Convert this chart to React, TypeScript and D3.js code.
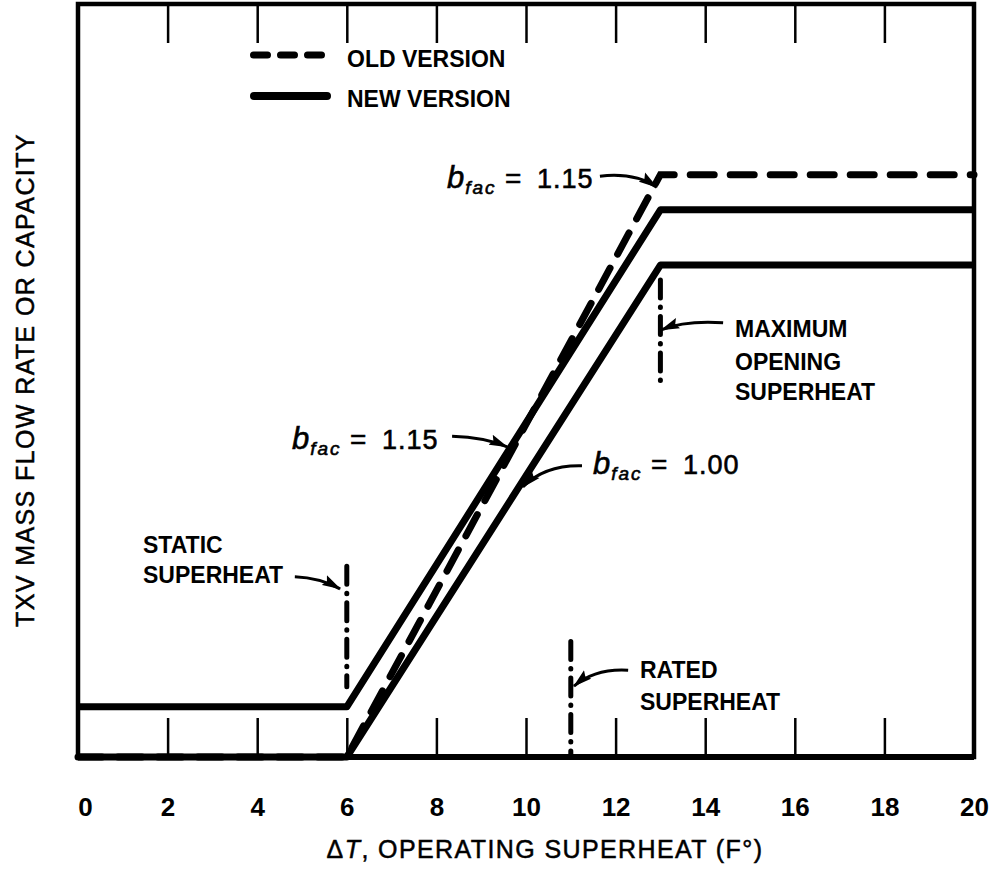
import * as d3 from 'd3';
import React, { useEffect, useRef } from 'react';

// x axis: operating superheat (F°)
const xTicks = [0, 2, 4, 6, 8, 10, 12, 14, 16, 18, 20];
const tickLabels = ['0', '2', '4', '6', '8', '10', '12', '14', '16', '18', '20'];

// curve break points (superheat) and capacities (relative)
const superheat = [0, 6, 13, 20];
const newHigh = [0.1, 0.1, 1.09, 1.09]; // b_fac = 1.15
const newLow = [0, 0, 0.98, 0.98]; // b_fac = 1.00
const oldVersion = [0, 0, 1.16, 1.16];

// dash-dot superheat markers
const markerX = [6, 13, 11];
const markerLow = [0.14, 0.74, 0];
const markerHigh = [0.38, 0.95, 0.23];

// annotation arrows in data units: start, control, end
const arrows = [
  [4.84, 0.359, 5.4, 0.357, 5.85, 0.335], // static superheat
  [14.4, 0.865, 13.55, 0.87, 13.02, 0.851], // maximum opening
  [11.25, 0.58, 10.42, 0.582, 9.93, 0.538], // b_fac 1.00
  [8.35, 0.639, 9.08, 0.637, 9.58, 0.618], // b_fac 1.15 (new)
  [11.65, 1.157, 12.43, 1.165, 12.92, 1.135], // b_fac 1.15 (old)
  [12.28, 0.173, 11.54, 0.177, 11.07, 0.141], // rated
];

const font = '"Liberation Sans", Arial, Helvetica, sans-serif';

function App() {
  const myRef = useRef<SVGSVGElement>(null);

  useEffect(() => {
    const svg = d3.select(myRef.current);
    svg.selectAll('*').remove();

    const x = d3.scaleLinear().domain([0, 20]).range([78, 974]);
    const y = d3.scaleLinear().domain([0, 1.5]).range([757, 4]);

    svg.append('defs')
      .append('marker')
      .attr('id', 'head')
      .attr('markerUnits', 'userSpaceOnUse')
      .attr('markerWidth', 20)
      .attr('markerHeight', 12)
      .attr('refX', 18)
      .attr('refY', 6)
      .attr('orient', 'auto')
      .append('path')
      .attr('d', 'M0,0.5 L19,6 L0,11.5 L3,6 Z')
      .attr('fill', '#000');

    // frame
    svg.append('rect')
      .attr('x', x(0))
      .attr('y', y(1.5))
      .attr('width', x(20) - x(0))
      .attr('height', y(0) - y(1.5))
      .attr('fill', 'none')
      .attr('stroke', '#000')
      .attr('stroke-width', 4.5);

    // bottom ticks + labels
    const xAxis = d3.axisBottom(x)
      .tickValues(xTicks)
      .tickSize(-39)
      .tickPadding(41)
      .tickFormat((d, i) => tickLabels[i]);
    const gx = svg.append('g')
      .attr('transform', `translate(0,${y(0)})`)
      .call(xAxis);
    gx.select('.domain').remove();
    gx.attr('font-family', font).attr('font-size', 26).attr('font-weight', 'bold');
    gx.selectAll('line').attr('stroke-width', 2.5);
    gx.selectAll('text').filter((d) => d === 0).attr('dx', 7);

    // top ticks
    const topAxis = d3.axisTop(x).tickValues(xTicks).tickSize(-39).tickFormat(() => '');
    const gt = svg.append('g')
      .attr('transform', `translate(0,${y(1.5)})`)
      .call(topAxis);
    gt.select('.domain').remove();
    gt.selectAll('line').attr('stroke-width', 2.5);

    // heavier bottom rule
    svg.append('line')
      .attr('x1', x(0)).attr('x2', x(20))
      .attr('y1', y(0)).attr('y2', y(0))
      .attr('stroke', '#000').attr('stroke-width', 6);

    const line = d3.line<number>()
      .x((d, i) => x(superheat[i]))
      .y((d) => y(d));

    // old version (dashed)
    svg.append('path')
      .attr('d', line(oldVersion))
      .attr('fill', 'none')
      .attr('stroke', '#000')
      .attr('stroke-width', 7)
      .attr('stroke-linecap', 'round')
      .attr('stroke-dasharray', '24 16');

    // new version
    [newHigh, newLow].forEach((s) => {
      svg.append('path')
        .attr('d', line(s))
        .attr('fill', 'none')
        .attr('stroke', '#000')
        .attr('stroke-width', 7)
        .attr('stroke-linejoin', 'round');
    });

    // dash-dot markers
    markerX.forEach((m, i) => {
      svg.append('line')
        .attr('x1', x(m)).attr('x2', x(m))
        .attr('y1', y(markerHigh[i])).attr('y2', y(markerLow[i]))
        .attr('stroke', '#000')
        .attr('stroke-width', 5)
        .attr('stroke-linecap', 'round')
        .attr('stroke-dasharray', '18 9 0.5 9');
    });

    // arrows
    arrows.forEach((a) => {
      const p = d3.path();
      p.moveTo(x(a[0]), y(a[1]));
      p.quadraticCurveTo(x(a[2]), y(a[3]), x(a[4]), y(a[5]));
      svg.append('path')
        .attr('d', p.toString())
        .attr('fill', 'none')
        .attr('stroke', '#000')
        .attr('stroke-width', 3)
        .attr('marker-end', 'url(#head)');
    });

    // legend
    svg.append('line')
      .attr('x1', 253.5).attr('x2', 326).attr('y1', 55).attr('y2', 55)
      .attr('stroke', '#000').attr('stroke-width', 7)
      .attr('stroke-linecap', 'round').attr('stroke-dasharray', '14 13');
    svg.append('line')
      .attr('x1', 254).attr('x2', 327).attr('y1', 96).attr('y2', 96)
      .attr('stroke', '#000').attr('stroke-width', 8)
      .attr('stroke-linecap', 'round');

    const label = (tx: number, ty: number, s: string) =>
      svg.append('text')
        .attr('x', tx).attr('y', ty)
        .attr('font-family', font)
        .attr('font-size', 23)
        .attr('font-weight', 'bold')
        .text(s);

    label(347, 67, 'OLD VERSION');
    label(347, 107, 'NEW VERSION');
    label(143, 553, 'STATIC');
    label(143, 583, 'SUPERHEAT');
    label(735, 337, 'MAXIMUM');
    label(735, 370, 'OPENING');
    label(735, 400, 'SUPERHEAT');
    label(640, 678, 'RATED');
    label(640, 710, 'SUPERHEAT');

    // b_fac labels
    const bfac = (tx: number, ty: number, v: string) => {
      const t = svg.append('text')
        .attr('x', tx).attr('y', ty)
        .attr('font-family', font)
        .attr('stroke', '#000')
        .attr('stroke-width', 0.6);
      t.append('tspan').attr('font-style', 'italic').attr('font-size', 31).text('b');
      t.append('tspan')
        .attr('font-style', 'italic').attr('font-size', 19)
        .attr('dx', 1).attr('dy', 6).attr('letter-spacing', 2)
        .text('fac');
      t.append('tspan').attr('x', tx + 58).attr('dy', -6).attr('font-size', 28).text('=');
      t.append('tspan').attr('x', tx + 90).attr('font-size', 27).attr('letter-spacing', 1).text(v);
    };
    bfac(447, 188, '1.15');
    bfac(292, 449, '1.15');
    bfac(593, 474, '1.00');

    // axis titles
    const xt = svg.append('text')
      .attr('x', 545).attr('y', 858)
      .attr('text-anchor', 'middle')
      .attr('font-family', font)
      .attr('font-size', 25)
      .attr('letter-spacing', 1.4)
      .attr('stroke', '#000')
      .attr('stroke-width', 0.5);
    xt.append('tspan').text('Δ');
    xt.append('tspan').attr('font-style', 'italic').text('T');
    xt.append('tspan').text(', OPERATING SUPERHEAT (F°)');

    svg.append('text')
      .attr('transform', 'translate(34,380) rotate(-90)')
      .attr('text-anchor', 'middle')
      .attr('font-family', font)
      .attr('font-size', 25)
      .attr('letter-spacing', 1.4)
      .attr('stroke', '#000')
      .attr('stroke-width', 0.5)
      .text('TXV MASS FLOW RATE OR CAPACITY');
  }, []);

  return (
    <svg
      ref={myRef}
      width={995}
      height={872}
      style={{ position: 'absolute', left: 0, top: 0, background: '#fff' }}
    />
  );
}

export default App;
